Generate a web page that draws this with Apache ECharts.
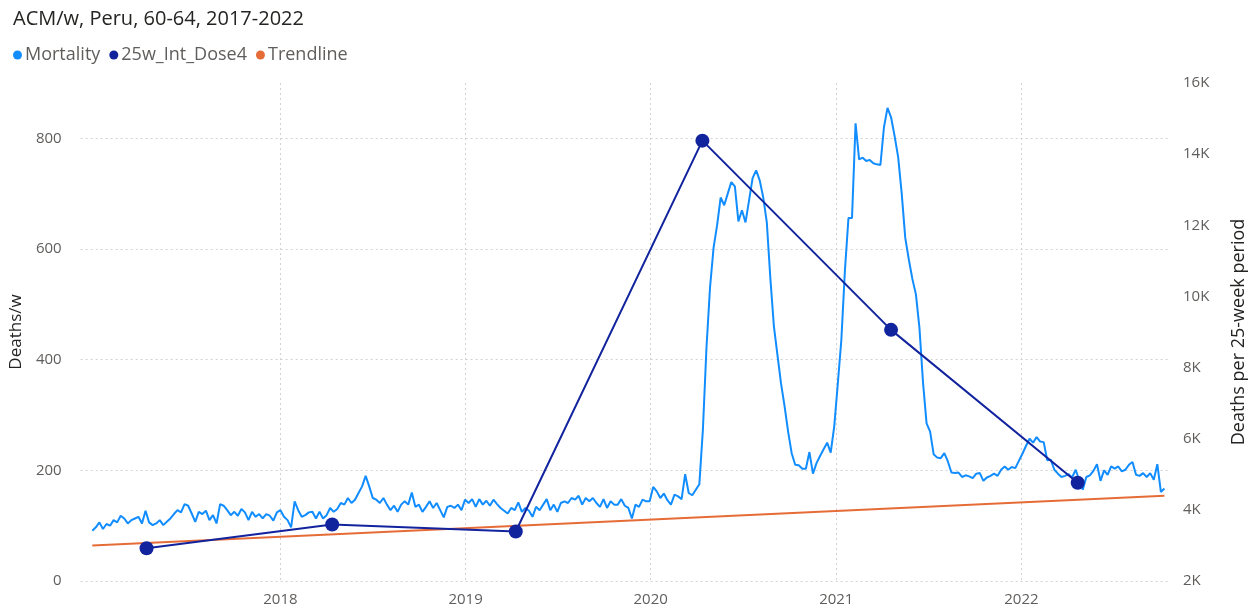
<!DOCTYPE html>
<html>
<head>
<meta charset="utf-8">
<title>ACM/w, Peru, 60-64</title>
<script src="https://cdn.jsdelivr.net/npm/echarts@6/dist/echarts.min.js"></script>
<style>
    html, body { margin: 0; padding: 0; background: #fff; }
    #main { width: 1256px; height: 611px; }
</style>
</head>
<body>
<div id="main"></div>
<script>
// weekly deaths, one value per week starting at weekStart
var weekStart = '2016-12-26';
var mortality2017 = [91, 97, 106, 94, 103, 100, 110, 106, 118, 113, 104, 110, 113, 116, 104, 127, 106, 101, 104, 110,
    101, 107, 113, 121, 128, 124, 139, 136, 122, 107, 125, 121, 127, 110, 119, 104, 139, 136, 128, 119,
    125, 118, 130, 124, 110, 125, 116, 121, 113, 121, 118, 109, 124];
var mortality2018 = [128, 116, 110, 97, 144, 128, 116, 119, 124, 125, 113, 125, 113, 119, 132, 125, 130, 141, 138, 150,
    141, 147, 159, 171, 190, 171, 150, 147, 141, 150, 138, 128, 136, 125, 138, 144, 138, 160, 134, 138,
    125, 134, 144, 132, 141, 128, 115, 134, 136, 132, 138, 128];
var mortality2019 = [147, 141, 148, 134, 148, 138, 145, 136, 147, 139, 132, 127, 122, 132, 128, 142, 125, 132, 127, 116,
    134, 128, 138, 148, 128, 138, 125, 141, 144, 141, 150, 147, 154, 138, 150, 144, 150, 141, 134, 148,
    132, 144, 138, 138, 148, 136, 132, 113, 138, 134, 147, 144];
var mortality2020 = [144, 170, 162, 150, 158, 146, 138, 156, 153, 148, 193, 159, 155, 165, 175, 274, 421, 530, 602, 643,
    693, 679, 700, 721, 713, 650, 670, 648, 688, 728, 742, 724, 693, 648, 547, 460, 408, 357, 316, 270,
    231, 210, 209, 203, 203, 233, 194, 213, 226, 238, 250, 232, 280];
var mortality2021 = [357, 436, 561, 656, 656, 827, 762, 765, 759, 761, 755, 753, 752, 820, 855, 838, 804, 766, 700, 620,
    581, 546, 518, 457, 359, 285, 270, 229, 223, 222, 231, 216, 196, 195, 196, 188, 191, 189, 186, 194,
    195, 181, 187, 190, 194, 190, 201, 207, 201, 206, 204, 217, 230];
var mortality2022 = [244, 257, 250, 260, 252, 251, 218, 219, 201, 194, 188, 190, 193, 187, 201, 182, 165, 188, 191, 199,
    211, 181, 200, 192, 207, 203, 207, 198, 201, 210, 215, 192, 190, 195, 188, 195, 183, 211, 161, 167];

// deaths per 25-week period (right axis)
var doseDates = ['2017-04-12', '2018-04-13', '2019-04-10', '2020-04-12', '2021-04-19', '2022-04-22'];
var doseValues = [2920, 3590, 3390, 14380, 9060, 4760];

// trendline end points
var trendValues = [64, 154];

var yearTicks = ['2018-01-01', '2019-01-01', '2020-01-01', '2021-01-01', '2022-01-01'];

var mortality = [].concat(mortality2017, mortality2018, mortality2019, mortality2020, mortality2021, mortality2022);
var day = 24 * 3600 * 1000;
var t0 = new Date(weekStart + 'T00:00:00Z').getTime();
var mortData = mortality.map(function (v, i) {
    return [t0 + i * 7 * day, v];
});
var trendData = [
    [mortData[0][0], trendValues[0]],
    [mortData[mortData.length - 1][0], trendValues[1]]
];
var doseData = doseDates.map(function (d, i) {
    return [new Date(d + 'T00:00:00Z').getTime(), doseValues[i]];
});
var tickValues = yearTicks.map(function (d) {
    return new Date(d + 'T00:00:00Z').getTime();
});

var chartDom = document.getElementById('main');
var myChart = echarts.init(chartDom);
var option;

var gridLine = {
    show: true,
    lineStyle: {
        type: [2, 3],
        color: '#D2D2D2',
        width: 1
    }
};

option = {
    animation: false,
    color: ['#118DFF', '#12239E', '#E66C37'],
    title: {
        text: 'ACM/w, Peru, 60-64, 2017-2022',
        left: 8,
        top: 4,
        textStyle: {
            fontFamily: 'Open Sans',
            fontSize: 20,
            fontWeight: 'normal',
            color: '#252423'
        }
    },
    legend: {
        left: 8,
        top: 41,
        icon: 'circle',
        itemWidth: 9,
        itemHeight: 9,
        itemGap: 9,
        textStyle: {
            fontFamily: 'Open Sans',
            fontSize: 18,
            color: '#605E5C',
            padding: [0, 0, 0, -2]
        },
        data: ['Mortality', '25w_Int_Dose4', 'Trendline']
    },
    grid: {
        left: 77,
        right: 77,
        top: 83,
        bottom: 30
    },
    xAxis: {
        type: 'time',
        min: '2016-12-03',
        max: '2022-10-21',
        axisLine: { show: false },
        axisTick: { show: false, customValues: tickValues },
        axisLabel: {
            customValues: tickValues,
            formatter: '{yyyy}',
            color: '#605E5C',
            fontFamily: 'Open Sans',
            fontSize: 15,
            margin: 11
        },
        splitLine: gridLine
    },
    yAxis: [
        {
            type: 'value',
            position: 'left',
            min: 0,
            max: 900,
            interval: 200,
            name: 'Deaths/w',
            nameLocation: 'middle',
            nameRotate: 90,
            nameGap: 49,
            nameTextStyle: {
                fontFamily: 'Open Sans',
                fontSize: 17,
                color: '#252423'
            },
            axisLine: { show: false },
            axisTick: { show: false },
            axisLabel: {
                showMaxLabel: false,
                color: '#605E5C',
                fontFamily: 'Open Sans',
                fontSize: 15,
                margin: 19
            },
            splitLine: {
                show: true,
                showMaxLine: false,
                lineStyle: gridLine.lineStyle
            }
        },
        {
            type: 'value',
            position: 'right',
            min: 2000,
            max: 16000,
            interval: 2000,
            name: 'Deaths per 25-week period',
            nameLocation: 'middle',
            nameRotate: 90,
            nameGap: 60,
            nameTextStyle: {
                fontFamily: 'Open Sans',
                fontSize: 18,
                color: '#252423'
            },
            axisLine: { show: false },
            axisTick: { show: false },
            axisLabel: {
                color: '#605E5C',
                fontFamily: 'Open Sans',
                fontSize: 15,
                margin: 13,
                formatter: function (v) {
                    return (v / 1000) + 'K';
                }
            },
            splitLine: { show: false }
        }
    ],
    series: [
        {
            name: 'Mortality',
            type: 'line',
            yAxisIndex: 0,
            data: mortData,
            showSymbol: false,
            symbol: 'circle',
            lineStyle: { width: 2, color: '#118DFF' },
            itemStyle: { color: '#118DFF' },
            z: 2
        },
        {
            name: '25w_Int_Dose4',
            type: 'line',
            yAxisIndex: 1,
            data: doseData,
            symbol: 'circle',
            symbolSize: 14,
            lineStyle: { width: 2, color: '#12239E' },
            itemStyle: { color: '#12239E' },
            z: 4
        },
        {
            name: 'Trendline',
            type: 'line',
            yAxisIndex: 0,
            data: trendData,
            showSymbol: false,
            symbol: 'circle',
            lineStyle: { width: 2, color: '#E66C37' },
            itemStyle: { color: '#E66C37' },
            z: 3
        }
    ]
};

option && myChart.setOption(option);
</script>
</body>
</html>
